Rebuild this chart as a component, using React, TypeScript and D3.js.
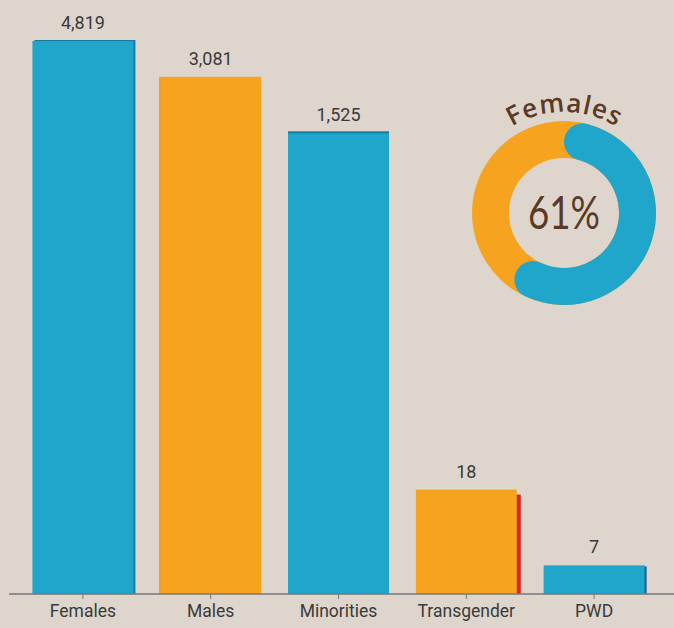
import React from "react";
import * as d3 from "d3";

const categories = ["Females", "Males", "Minorities", "Transgender", "PWD"];
const counts = [4819, 3081, 1525, 18, 7];

const width = 674;
const height = 628;
const baseline = 594;
const bg = "#ded6cd";
const blue = "#20a6ca";
const orange = "#f6a420";
const ink = "#3a3a3a";
const brown = "#5a3a24";

// main colour and the thin offset "shadow" behind each bar
const barFill = [blue, orange, blue, orange, blue];
const shadowFill = ["#1679a3", "#f08a3a", "#1679a3", "#d9232d", "#165f96"];
const shadowShift = [
  [2, -1],
  [-1, 0],
  [0, -2],
  [4, 5],
  [2, 1]
];

const arcFont = "600 26px 'Open Sans'";
const arcSpacing = 1;

// lay the donut title out letter by letter along a circle
function curvedLetters(label: string, cx: number, cy: number, r: number) {
  const ctx = document.createElement("canvas").getContext("2d");
  ctx.font = arcFont;
  const widths = label.split("").map((ch) => ctx.measureText(ch).width);
  const total = d3.sum(widths) + arcSpacing * (widths.length - 1);
  let offset = -total / 2;
  return label.split("").map((ch, i) => {
    const a = (offset + widths[i] / 2) / r;
    offset += widths[i] + arcSpacing;
    return {
      ch,
      x: cx + r * Math.sin(a),
      y: cy - r * Math.cos(a),
      deg: (a * 180) / Math.PI
    };
  });
}

export default function App() {
  const x = d3
    .scaleBand()
    .domain(categories)
    .range([19, 658])
    .paddingInner(0.21)
    .paddingOuter(0.105);

  // the bars are drawn on a log scale so the small groups stay visible
  const y = d3.scaleLog().domain([4.9, 4819]).range([baseline, 41]);

  const fmt = d3.format(",");

  const share = counts[0] / (counts[0] + counts[1]);
  const shareLabel = `${Math.round(share * 100)}%`;
  const cx = 564;
  const cy = 213;
  const ring = d3.arc().innerRadius(55).outerRadius(92);
  const letters = curvedLetters(categories[0], cx, cy, 101);

  return (
    <svg
      width={width}
      height={height}
      style={{ position: "fixed", top: 0, left: 0, display: "block" }}
    >
      <rect x={0} y={0} width={width} height={height} fill={bg} />

      <g>
        {categories.map((c, i) => {
          const top = y(counts[i]);
          const [dx, dy] = shadowShift[i];
          return (
            <g key={c}>
              <rect
                x={x(c) + dx}
                y={top + dy}
                width={x.bandwidth()}
                height={baseline - top - dy}
                fill={shadowFill[i]}
              />
              <rect
                x={x(c)}
                y={top}
                width={x.bandwidth()}
                height={baseline - top}
                fill={barFill[i]}
              />
              <text
                x={x(c) + x.bandwidth() / 2}
                y={top - 12}
                textAnchor="middle"
                fontFamily="Roboto, sans-serif"
                fontSize={18}
                fill={ink}
              >
                {fmt(counts[i])}
              </text>
            </g>
          );
        })}
      </g>

      <g>
        <line x1={9} x2={width} y1={baseline} y2={baseline} stroke="#777" strokeWidth={1.5} />
        {categories.map((c) => (
          <g key={c} transform={`translate(${x(c) + x.bandwidth() / 2}, ${baseline})`}>
            <line y1={0} y2={5} stroke="#777" strokeWidth={1} />
            <text
              y={23}
              textAnchor="middle"
              fontFamily="Roboto, sans-serif"
              fontSize={17.5}
              fill={ink}
            >
              {c}
            </text>
          </g>
        ))}
      </g>

      <g>
        <path
          d={ring({ startAngle: 0, endAngle: 2 * Math.PI })}
          transform={`translate(${cx}, ${cy})`}
          fill={orange}
        />
        <path
          d={ring.cornerRadius(18.5)({ startAngle: 0, endAngle: share * 2 * Math.PI })}
          transform={`translate(${cx}, ${cy})`}
          fill={blue}
        />
        <text
          x={cx}
          y={cy + 16}
          textAnchor="middle"
          fontFamily="Lato, sans-serif"
          fontWeight={400}
          fontSize={46}
          textLength={72}
          lengthAdjust="spacingAndGlyphs"
          fill={brown}
        >
          {shareLabel}
        </text>
        {letters.map((l, i) => (
          <text
            key={i}
            transform={`translate(${l.x}, ${l.y}) rotate(${l.deg})`}
            textAnchor="middle"
            fontFamily="'Open Sans', sans-serif"
            fontWeight={600}
            fontSize={26}
            fill={brown}
          >
            {l.ch}
          </text>
        ))}
      </g>
    </svg>
  );
}
